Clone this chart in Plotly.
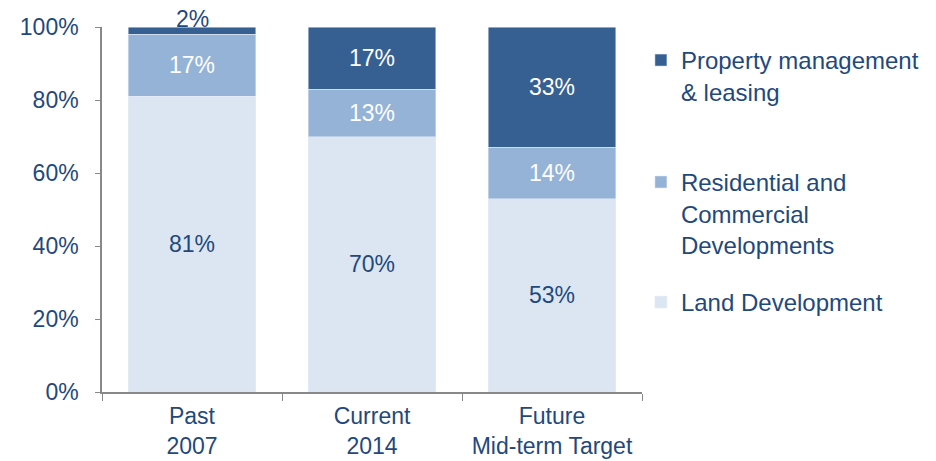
import plotly.graph_objects as go

# categories (x axis) and series values in percent
categories = ["Past<br>2007", "Current<br>2014", "Future<br>Mid-term Target"]
land_dev = [81, 70, 53]
res_comm_dev = [17, 13, 14]
property_mgmt = [2, 17, 33]

series_names = [
    "Land Development",
    "Residential and<br>Commercial<br>Developments",
    "Property management<br>& leasing",
]
y_ticks = [0, 20, 40, 60, 80, 100]
y_tick_labels = [f"{v}%" for v in y_ticks]

text_blue = "#1F497D"
font_family = "Liberation Sans, Arial, sans-serif"
bar_font = 23


def pct(values):
    return [f"{v}%" for v in values]


fig = go.Figure()

fig.add_trace(go.Bar(
    x=categories, y=land_dev, name=series_names[0],
    marker_color="#DCE6F2",
    text=pct(land_dev), texttemplate="%{text}",
    textposition="inside", insidetextanchor="middle",
    insidetextfont=dict(color=text_blue, size=bar_font, family=font_family),
    legend="legend3",
))
fig.add_trace(go.Bar(
    x=categories, y=res_comm_dev, name=series_names[1],
    marker_color="#95B3D7",
    text=pct(res_comm_dev), texttemplate="%{text}",
    textposition="inside", insidetextanchor="middle",
    insidetextfont=dict(color="white", size=bar_font, family=font_family),
    legend="legend2",
))
# the thin 2% slice gets its label above the bar (annotation below)
fig.add_trace(go.Bar(
    x=categories, y=property_mgmt, name=series_names[2],
    marker_color="#376092",
    text=pct(property_mgmt), texttemplate="%{text}",
    textposition=["none", "inside", "inside"],
    insidetextanchor="middle",
    insidetextfont=dict(color="white", size=bar_font, family=font_family),
    legend="legend",
))

top0 = land_dev[0] + res_comm_dev[0] + property_mgmt[0]
fig.add_annotation(
    x=categories[0], y=top0, text=pct(property_mgmt)[0],
    showarrow=False, yanchor="bottom", yshift=-7,
    font=dict(color=text_blue, size=bar_font, family=font_family),
)

legend_style = dict(
    xref="paper", yref="paper", x=0.998, xanchor="left", yanchor="top",
    bgcolor="rgba(0,0,0,0)", valign="top",
    font=dict(color=text_blue, size=24, family=font_family),
)

fig.update_layout(
    barmode="stack",
    bargap=0.29,
    width=936, height=461,
    margin=dict(l=102, r=294, t=27, b=69, autoexpand=False),
    plot_bgcolor="white", paper_bgcolor="white",
    font=dict(family=font_family, color=text_blue, size=23),
    showlegend=True,
    legend=dict(legend_style, y=0.97),
    legend2=dict(legend_style, y=0.636),
    legend3=dict(legend_style, y=0.307),
)

fig.update_xaxes(
    showline=True, linecolor="#888888", linewidth=1.5,
    ticks="outside", tickson="boundaries", ticklen=7, tickcolor="#888888",
    tickfont=dict(size=23, color=text_blue), tickangle=0,
    ticklabelstandoff=3,
    showgrid=False, automargin=False,
)
fig.update_yaxes(
    range=[0, 100], tickmode="array", tickvals=y_ticks, ticktext=y_tick_labels,
    showline=True, linecolor="#888888", linewidth=1.5,
    ticks="outside", ticklen=5, tickcolor="#888888",
    tickfont=dict(size=23, color=text_blue),
    ticklabelstandoff=12,
    showgrid=False, zeroline=False, automargin=False,
)

fig.write_html(
    "out.html",
    config={"displayModeBar": False},
    post_script="document.body.style.margin='0';",
)
